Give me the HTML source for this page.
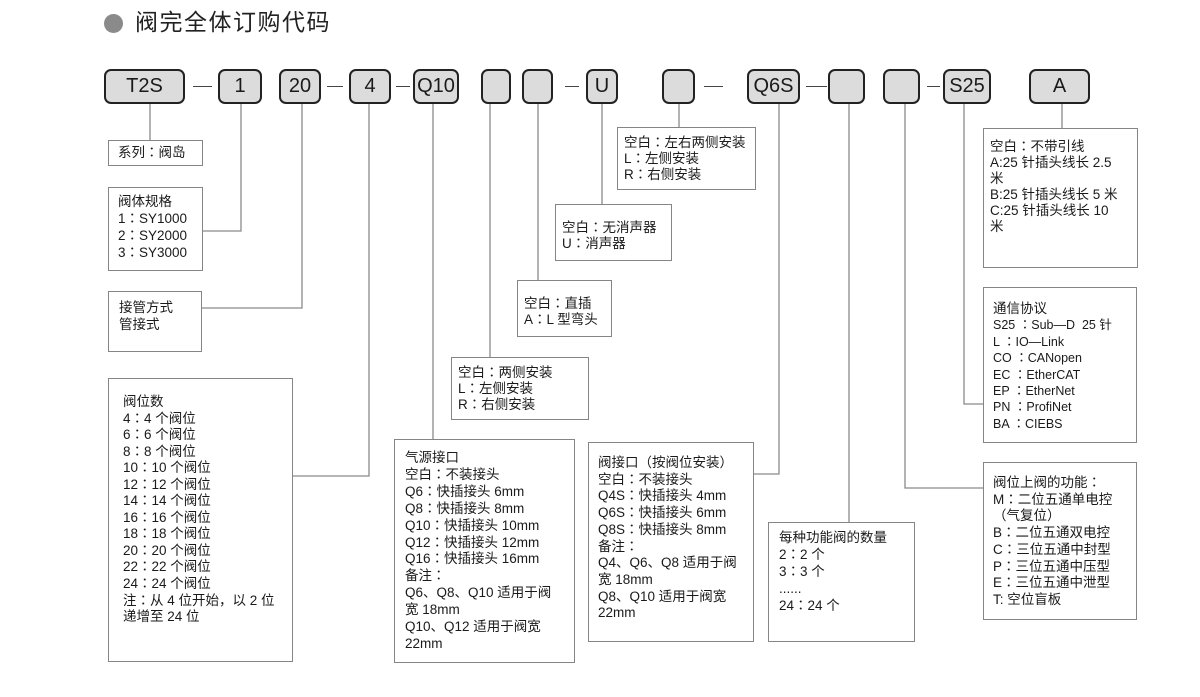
<!DOCTYPE html>
<html>
<head>
<meta charset="utf-8">
<style>
  html,body{margin:0;padding:0;background:#fff;}
  body{width:1200px;height:697px;position:relative;overflow:hidden;
       font-family:"Liberation Sans","Noto Sans CJK SC",sans-serif;color:#222;}
  .title{position:absolute;left:135px;top:8px;font-size:23px;line-height:28px;letter-spacing:1.5px;color:#222;}
  .dot{position:absolute;left:104px;top:14px;width:19px;height:19px;border-radius:50%;background:#8a8a8a;}
  .k{position:absolute;top:69px;height:35px;box-sizing:border-box;border:2px solid #222;border-radius:7px;
     background:#dcdcdc;font-size:20px;line-height:31px;text-align:center;color:#1a1a1a;}
  .d{position:absolute;top:86px;height:0;border-top:1.5px solid #444;}
  .b{position:absolute;box-sizing:border-box;border:1px solid #858585;background:#fff;
     font-size:13.5px;white-space:nowrap;color:#1a1a1a;}
  i{font-style:normal;font-family:"Noto Sans CJK JP","Noto Sans CJK TC",sans-serif;line-height:0;}
  svg{position:absolute;left:0;top:0;}
</style>
</head>
<body>
<div class="dot"></div>
<div class="title">阀完全体订购代码</div>

<svg width="1200" height="697">
  <g stroke="#8a8a8a" stroke-width="1.3" fill="none">
    <polyline points="150,104 150,140"/>
    <polyline points="241,104 241,231 203,231"/>
    <polyline points="302,104 302,308 202,308"/>
    <polyline points="369,104 369,476 293,476"/>
    <polyline points="433,104 433,439"/>
    <polyline points="490,104 490,357"/>
    <polyline points="538,104 538,280"/>
    <polyline points="602,104 602,204"/>
    <polyline points="679,104 679,127"/>
    <polyline points="779,104 779,474 754,474"/>
    <polyline points="849,104 849,522"/>
    <polyline points="905,104 905,488 983,488"/>
    <polyline points="964,104 964,404 983,404"/>
    <polyline points="1062,104 1062,128"/>
  </g>
</svg>

<!-- top code boxes -->
<div class="k" style="left:104px;width:81px;">T2S</div>
<div class="d" style="left:193px;width:19px;"></div>
<div class="k" style="left:218px;width:44px;">1</div>
<div class="k" style="left:279px;width:42px;">20</div>
<div class="d" style="left:327px;width:16px;"></div>
<div class="k" style="left:349px;width:42px;">4</div>
<div class="d" style="left:396px;width:14px;"></div>
<div class="k" style="left:413px;width:46px;">Q10</div>
<div class="k" style="left:481px;width:30px;"></div>
<div class="k" style="left:522px;width:31px;"></div>
<div class="d" style="left:565px;width:14px;"></div>
<div class="k" style="left:586px;width:32px;">U</div>
<div class="k" style="left:662px;width:33px;"></div>
<div class="d" style="left:704px;width:19px;"></div>
<div class="k" style="left:747px;width:53px;">Q6S</div>
<div class="d" style="left:806px;width:21px;"></div>
<div class="k" style="left:828px;width:37px;"></div>
<div class="k" style="left:883px;width:37px;"></div>
<div class="d" style="left:927px;width:13px;"></div>
<div class="k" style="left:943px;width:48px;">S25</div>
<div class="k" style="left:1029px;width:61px;">A</div>

<!-- description boxes -->
<div class="b" style="left:108px;top:140px;width:95px;height:26px;line-height:17px;padding:3px 0 0 9px;">系列<i>：</i>阀岛</div>

<div class="b" style="left:108px;top:187px;width:95px;height:84px;line-height:17px;padding:5px 0 0 9px;">阀体规格<br>1<i>：</i>SY1000<br>2<i>：</i>SY2000<br>3<i>：</i>SY3000</div>

<div class="b" style="left:108px;top:291px;width:94px;height:61px;line-height:16.5px;padding:8px 0 0 10px;">接管方式<br>管接式</div>

<div class="b" style="left:108px;top:378px;width:185px;height:284px;line-height:16.55px;padding:15px 0 0 14px;">阀位数<br>4<i>：</i>4 个阀位<br>6<i>：</i>6 个阀位<br>8<i>：</i>8 个阀位<br>10<i>：</i>10 个阀位<br>12<i>：</i>12 个阀位<br>14<i>：</i>14 个阀位<br>16<i>：</i>16 个阀位<br>18<i>：</i>18 个阀位<br>20<i>：</i>20 个阀位<br>22<i>：</i>22 个阀位<br>24<i>：</i>24 个阀位<br>注<i>：</i>从 4 位开始，以 2 位<br>递增至 24 位</div>

<div class="b" style="left:451px;top:357px;width:138px;height:63px;line-height:16px;padding:7px 0 0 6px;">空白<i>：</i>两侧安装<br>L<i>：</i>左侧安装<br>R<i>：</i>右侧安装</div>

<div class="b" style="left:394px;top:439px;width:181px;height:224px;line-height:16.9px;padding:10px 0 0 10px;">气源接口<br>空白<i>：</i>不装接头<br>Q6<i>：</i>快插接头 6mm<br>Q8<i>：</i>快插接头 8mm<br>Q10<i>：</i>快插接头 10mm<br>Q12<i>：</i>快插接头 12mm<br>Q16<i>：</i>快插接头 16mm<br>备注<i>：</i><br>Q6、Q8、Q10 适用于阀<br>宽 18mm<br>Q10、Q12 适用于阀宽<br>22mm</div>

<div class="b" style="left:517px;top:280px;width:95px;height:57px;line-height:16px;padding:15px 0 0 6px;">空白<i>：</i>直插<br>A<i>：</i>L 型弯头</div>

<div class="b" style="left:555px;top:204px;width:117px;height:57px;line-height:16px;padding:15px 0 0 6px;">空白<i>：</i>无消声器<br>U<i>：</i>消声器</div>

<div class="b" style="left:617px;top:127px;width:139px;height:63px;line-height:16px;padding:7px 0 0 6px;">空白<i>：</i>左右两侧安装<br>L<i>：</i>左侧安装<br>R<i>：</i>右侧安装</div>

<div class="b" style="left:588px;top:442px;width:166px;height:200px;line-height:16.7px;padding:12px 0 0 9px;">阀接口<i>（</i>按阀位安装<i>）</i><br>空白<i>：</i>不装接头<br>Q4S<i>：</i>快插接头 4mm<br>Q6S<i>：</i>快插接头 6mm<br>Q8S<i>：</i>快插接头 8mm<br>备注<i>：</i><br>Q4、Q6、Q8 适用于阀<br>宽 18mm<br>Q8、Q10 适用于阀宽<br>22mm</div>

<div class="b" style="left:768px;top:522px;width:147px;height:120px;line-height:16.9px;padding:7px 0 0 10px;">每种功能阀的数量<br>2<i>：</i>2 个<br>3<i>：</i>3 个<br>......<br>24<i>：</i>24 个</div>

<div class="b" style="left:983px;top:128px;width:155px;height:140px;line-height:16px;padding:10px 0 0 6px;">空白<i>：</i>不带引线<br>A:25 针插头线长 2.5<br>米<br>B:25 针插头线长 5 米<br>C:25 针插头线长 10<br>米</div>

<div class="b" style="left:983px;top:287px;width:154px;height:156px;line-height:16.4px;padding:13px 0 0 9px;"><span style="font-size:13.5px;">通信协议</span><br><span style="font-size:12.5px;">S25 <i>：</i>Sub—D&nbsp; 25 针<br>L <i>：</i>IO—Link<br>CO <i>：</i>CANopen<br>EC <i>：</i>EtherCAT<br>EP <i>：</i>EtherNet<br>PN <i>：</i>ProfiNet<br>BA <i>：</i>CIEBS</span></div>

<div class="b" style="left:983px;top:462px;width:154px;height:158px;line-height:16.7px;padding:12px 0 0 9px;">阀位上阀的功能<i>：</i><br>M<i>：</i>二位五通单电控<br><i>（</i>气复位<i>）</i><br>B<i>：</i>二位五通双电控<br>C<i>：</i>三位五通中封型<br>P<i>：</i>三位五通中压型<br>E<i>：</i>三位五通中泄型<br>T: 空位盲板</div>

</body>
</html>
